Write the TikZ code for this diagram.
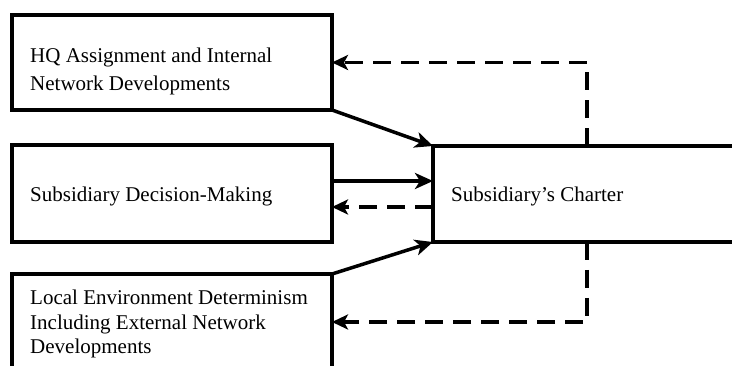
\documentclass[tikz,border=0pt]{standalone}
\usepackage{fontspec}
\setmainfont{Liberation Serif}
\usetikzlibrary{arrows.meta,calc}
\begin{document}
\begin{tikzpicture}[x=1pt,y=-1pt,
  box/.style={draw,line width=3.8pt,outer sep=0pt,inner sep=0pt,anchor=north west},
  txt/.style={anchor=north west,inner sep=0pt,align=left,font=\fontsize{21}{27.5}\selectfont},
  con/.style={line width=3.5pt,-{Stealth[length=18pt,width=16pt,inset=5pt]}},
  dcon/.style={line width=3.5pt,dash pattern=on 18pt off 10pt,-{Stealth[length=16pt,width=15pt,inset=4pt]}}]
\useasboundingbox (0,0) rectangle (732,366);
\clip (0,0) rectangle (732,366);
% boxes
\node[box,minimum width=320pt,minimum height=95pt] (b1) at (12,15) {};
\node[box,minimum width=320pt,minimum height=97pt] (b2) at (12,145) {};
\node[box,minimum width=320pt,minimum height=115pt] (b3) at (12,274) {};
\node[box,minimum width=330pt,minimum height=96pt] (rb) at (433,146) {};
% texts
\node[txt] (t1) at (30,48) {HQ Assignment and Internal\\Network Developments};
\node[txt,anchor=base west] (t2) at (30,202) {Subsidiary Decision-Making};
\node[txt,font=\fontsize{21}{24.5}\selectfont] (t3) at (30,290) {Local Environment Determinism\\Including External Network\\Developments};
\node[txt,anchor=base west] (t4) at (451,202) {Subsidiary’s Charter};
% connectors
\coordinate (tc) at ([xshift=154pt]rb.north west);
\coordinate (bc) at ([xshift=154pt]rb.south west);
\coordinate (e3) at ([yshift=-48pt]b3.north east);
\draw[con] (b1.south east) -- (rb.north west);
\draw[con] (b3.north east) -- (rb.south west);
\draw[con] ([yshift=12.5pt]b2.east) -- ([yshift=12.5pt]b2.east -| rb.west);
\draw[dcon] ([yshift=-13.5pt]b2.east -| rb.west) -- ([yshift=-13.5pt]b2.east);
\draw[dcon] (tc) |- (b1.east);
\draw[dcon] (bc) |- (e3);
\end{tikzpicture}
\end{document}
